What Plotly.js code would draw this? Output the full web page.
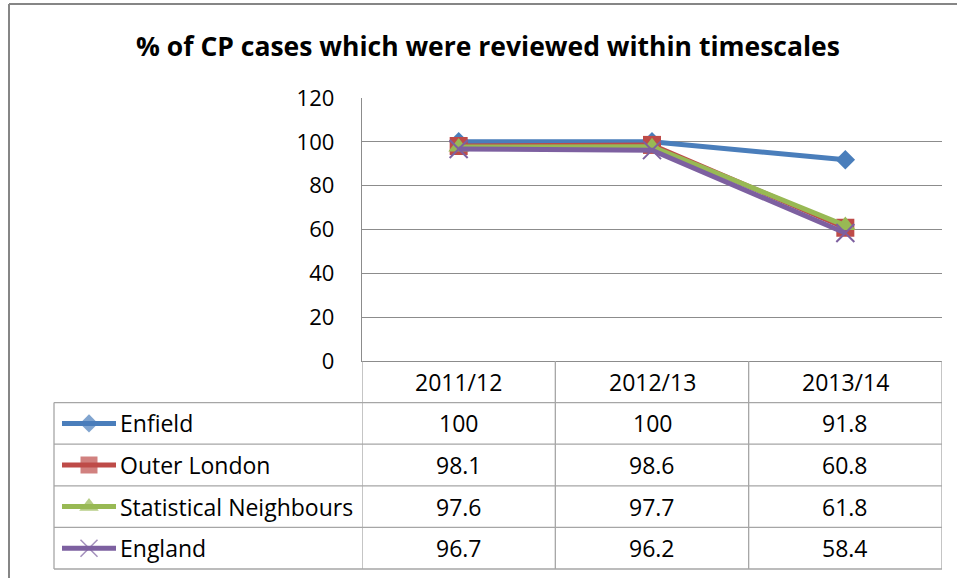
<!DOCTYPE html>
<html>
<head>
<meta charset="utf-8">
<script src="https://cdn.plot.ly/plotly-3.0.1.min.js"></script>
<style>html,body{margin:0;padding:0;background:#fff;}#chart{width:957px;height:578px;}</style>
</head>
<body>
<div id="chart"></div>
<script>
// ---- data ----
var categories = ["2011/12", "2012/13", "2013/14"];
var seriesNames = ["Enfield", "Outer London", "Statistical Neighbours", "England"];
var enfield = [100, 100, 91.8];
var outerLondon = [98.1, 98.6, 60.8];
var statNeighbours = [97.6, 97.7, 61.8];
var england = [96.7, 96.2, 58.4];
var valueLabels = [
  ["100", "100", "91.8"],
  ["98.1", "98.6", "60.8"],
  ["97.6", "97.7", "61.8"],
  ["96.7", "96.2", "58.4"]
];
var yTicks = [0, 20, 40, 60, 80, 100, 120];

// ---- styling / geometry ----
var W = 957, H = 578;
function px(x){ return x / W; }
function py(y){ return 1 - y / H; }
var plotL = 362, plotR = 942, plotT = 98, plotB = 361;
var tableL = 54, tableB = 569;
var nRows = 5;
var rowH = (tableB - plotB) / nRows;
function rowCenter(r){ return plotB + rowH * (r + 0.5); }
function rowEdge(r){ return plotB + rowH * r; }

var FONT = "'Open Sans', 'Liberation Sans', sans-serif";
var gridColor = "#8c8c8c";
var tableColor = "#a6a6a6";
var colors = ["#4A7EBB", "#BE4B48", "#98B954", "#7D60A0"];
var symbols = ["diamond", "square", "triangle-up", "x-thin"];
var msizes = [15, 18, 18, 18];
var allSeries = [enfield, outerLondon, statNeighbours, england];

var traces = [];
allSeries.forEach(function(vals, i){
  var isX = symbols[i] === "x-thin";
  traces.push({
    type: "scatter", mode: "lines+markers",
    x: [0, 1, 2], y: vals, name: seriesNames[i],
    xaxis: "x", yaxis: "y",
    line: {color: colors[i], width: 5},
    marker: {symbol: symbols[i], size: msizes[i], color: colors[i],
             line: {color: colors[i], width: isX ? 2 : 0}},
    showlegend: false, cliponaxis: false
  });
});
// legend keys inside table
allSeries.forEach(function(vals, i){
  var isX = symbols[i] === "x-thin";
  traces.push({
    type: "scatter", mode: "lines+markers",
    x: [0, 0.5, 1], y: [i, i, i],
    xaxis: "x2", yaxis: "y2",
    line: {color: colors[i], width: 5},
    marker: {symbol: symbols[i], size: [0, msizes[i] - 1, 0], color: colors[i],
             line: {color: colors[i], width: isX ? 1.5 : 0}},
    showlegend: false, cliponaxis: false
  });
});

var shapes = [];
// outer chart border (top and left)
shapes.push({type: "line", xref: "paper", yref: "paper", x0: px(9), x1: px(960), y0: py(4), y1: py(4), line: {color: "#868686", width: 2}});
shapes.push({type: "line", xref: "paper", yref: "paper", x0: px(9), x1: px(9), y0: py(4), y1: py(580), line: {color: "#868686", width: 2}});
// table horizontal lines
for (var r = 1; r <= nRows; r++) {
  shapes.push({type: "line", xref: "paper", yref: "paper", x0: px(tableL), x1: px(plotR),
    y0: py(rowEdge(r)), y1: py(rowEdge(r)), line: {color: tableColor, width: 1.3}});
}
// table left border
shapes.push({type: "line", xref: "paper", yref: "paper", x0: px(tableL), x1: px(tableL),
  y0: py(rowEdge(1)), y1: py(tableB), line: {color: tableColor, width: 1.3}});
// column dividers (category boundaries on the x scale)
[-0.5, 0.5, 1.5, 2.5].forEach(function(xv){
  shapes.push({type: "line", xref: "x", yref: "paper", x0: xv, x1: xv,
    y0: py(plotB), y1: py(tableB), line: {color: tableColor, width: 1.3}});
});

var annotations = [];
var cellFont = {family: FONT, size: 23, color: "#000"};
categories.forEach(function(c, j){
  annotations.push({xref: "x", yref: "paper", x: j, y: py(rowCenter(0)), text: c,
    showarrow: false, xanchor: "center", yanchor: "middle", font: cellFont});
});
seriesNames.forEach(function(n, i){
  annotations.push({xref: "paper", yref: "paper", x: px(118), y: py(rowCenter(i + 1)), text: n,
    showarrow: false, xanchor: "left", yanchor: "middle", font: cellFont});
  valueLabels[i].forEach(function(v, j){
    annotations.push({xref: "x", yref: "paper", x: j, y: py(rowCenter(i + 1)), text: v,
      showarrow: false, xanchor: "center", yanchor: "middle", font: cellFont});
  });
});

var layout = {
  width: W, height: H,
  margin: {l: 0, r: 0, t: 0, b: 0, pad: 0},
  paper_bgcolor: "#fff", plot_bgcolor: "#fff",
  font: {family: FONT, color: "#000"},
  title: {text: "% of CP cases which were reviewed within timescales",
    font: {family: FONT, size: 26.5, color: "#000", weight: "bold"},
    x: 488 / W, xanchor: "center", y: py(47), yanchor: "middle", xref: "paper", yref: "paper"},
  xaxis: {domain: [px(plotL), px(plotR)], range: [-0.5, 2.5], showgrid: false, zeroline: false,
    showticklabels: false, ticks: "", showline: true, linecolor: gridColor, linewidth: 1.3, fixedrange: true},
  yaxis: {domain: [py(plotB), py(plotT)], range: [0, 120], tickvals: yTicks, ticktext: yTicks.map(String),
    showgrid: true, gridcolor: gridColor, gridwidth: 1.3, zeroline: false, showline: true,
    linecolor: gridColor, linewidth: 1.3, ticks: "", ticklabelstandoff: 22,
    tickfont: {family: FONT, size: 22, color: "#000"}, fixedrange: true},
  xaxis2: {domain: [px(62), px(116)], range: [0, 1], visible: false, anchor: "y2", fixedrange: true},
  yaxis2: {domain: [py(tableB), py(rowEdge(1))], range: [3.5, -0.5], visible: false, anchor: "x2", fixedrange: true},
  shapes: shapes,
  annotations: annotations,
  showlegend: false
};

Plotly.newPlot("chart", traces, layout, {staticPlot: true, displayModeBar: false});
</script>
</body>
</html>
